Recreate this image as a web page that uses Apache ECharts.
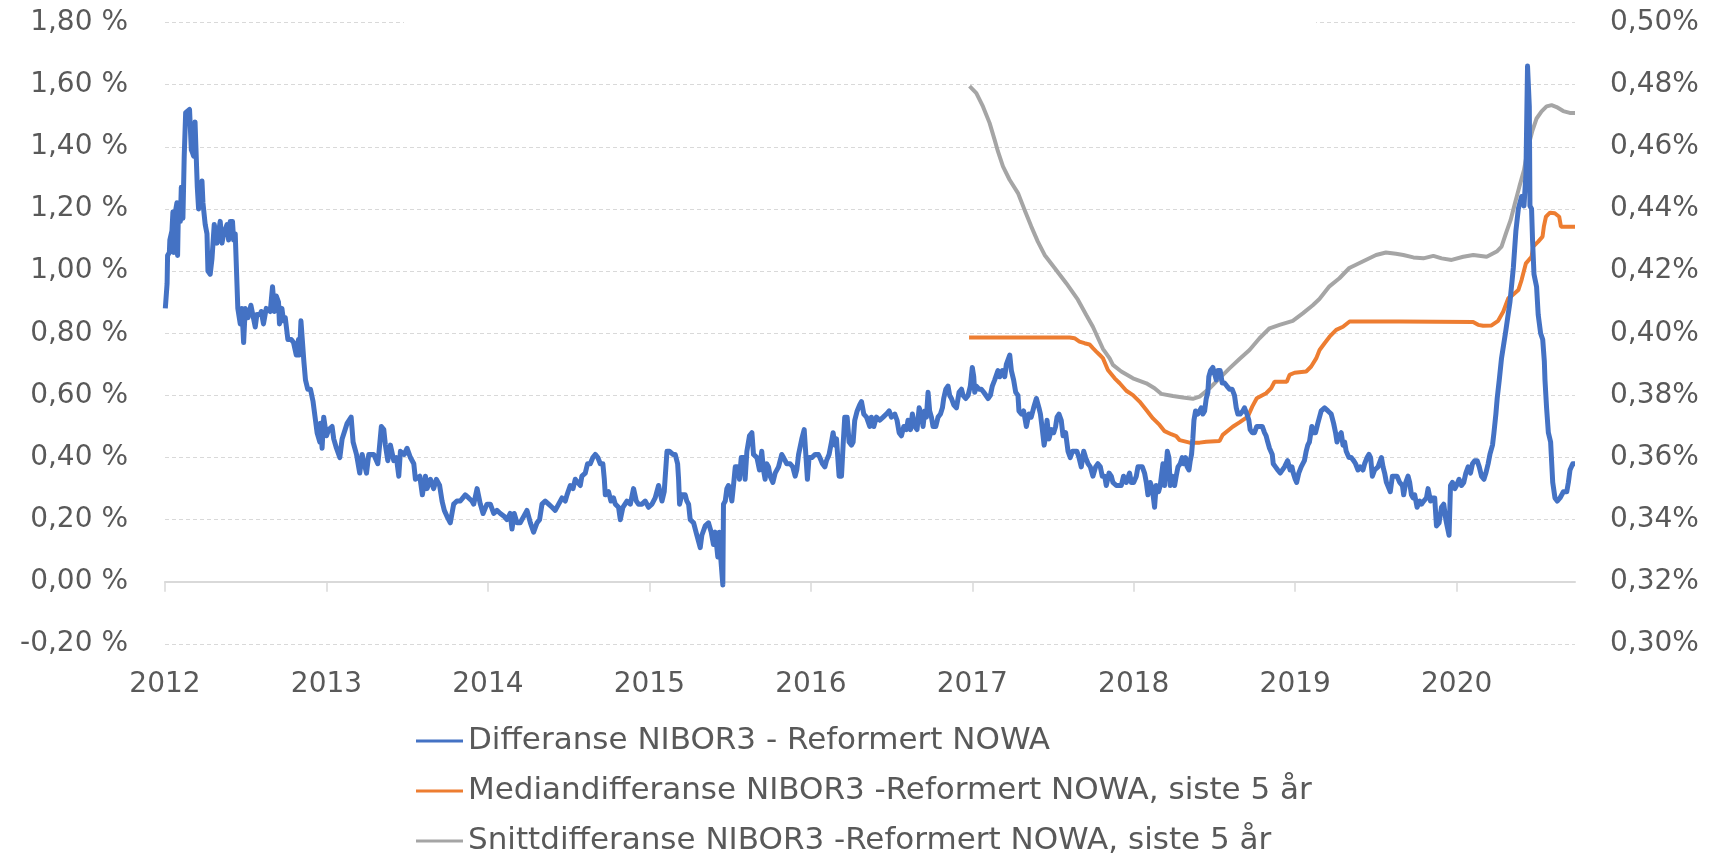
<!DOCTYPE html>
<html>
<head>
<meta charset="utf-8">
<script src="https://cdn.jsdelivr.net/npm/echarts@6/dist/echarts.min.js"></script>
<style>
  html, body { margin: 0; padding: 0; background: #fff; }
  #chart { width: 1711px; height: 853px; }
</style>
</head>
<body>
<div id="chart"></div>
<script>
// år på x-aksen (desimalår), verdier i prosent
var yearTicks = [2012, 2013, 2014, 2015, 2016, 2017, 2018, 2019, 2020];
var seriesNames = [
  'Differanse NIBOR3 - Reformert NOWA',
  'Mediandifferanse NIBOR3 -Reformert NOWA, siste 5 år',
  'Snittdifferanse NIBOR3 -Reformert NOWA, siste 5 år'
];

// venstre akse
var differanse = [
  [2012.002,0.88],[2012.013,0.96],[2012.016,1.05],[2012.027,1.06],[2012.030,1.10],[2012.043,1.13],[2012.049,1.19],[2012.053,1.06],
  [2012.064,1.19],[2012.074,1.22],[2012.078,1.05],[2012.084,1.22],[2012.095,1.16],[2012.101,1.27],[2012.111,1.17],[2012.119,1.37],
  [2012.128,1.51],[2012.140,1.51],[2012.152,1.52],[2012.160,1.52],[2012.163,1.39],[2012.171,1.38],[2012.177,1.37],[2012.186,1.48],
  [2012.196,1.48],[2012.200,1.27],[2012.208,1.20],[2012.218,1.26],[2012.229,1.29],[2012.235,1.22],[2012.242,1.22],[2012.249,1.15],
  [2012.260,1.12],[2012.266,1.00],[2012.280,0.99],[2012.291,1.04],[2012.305,1.15],[2012.322,1.09],[2012.342,1.16],[2012.353,1.09],
  [2012.363,1.12],[2012.384,1.15],[2012.394,1.10],[2012.404,1.16],[2012.418,1.16],[2012.425,1.10],[2012.435,1.12],[2012.447,1.12],
  [2012.451,0.88],[2012.466,0.83],[2012.476,0.88],[2012.487,0.77],[2012.497,0.88],[2012.514,0.85],[2012.532,0.89],[2012.559,0.82],
  [2012.569,0.86],[2012.590,0.86],[2012.596,0.87],[2012.610,0.83],[2012.627,0.88],[2012.652,0.87],[2012.666,0.95],[2012.678,0.87],
  [2012.689,0.92],[2012.703,0.90],[2012.709,0.83],[2012.724,0.88],[2012.734,0.84],[2012.745,0.85],[2012.761,0.78],[2012.782,0.78],
  [2012.796,0.77],[2012.813,0.73],[2012.827,0.78],[2012.833,0.73],[2012.842,0.84],[2012.849,0.84],[2012.860,0.71],[2012.870,0.65],
  [2012.884,0.62],[2012.901,0.62],[2012.917,0.58],[2012.932,0.52],[2012.942,0.48],[2012.959,0.45],[2012.963,0.51],[2012.973,0.43],
  [2012.983,0.53],[2013.000,0.47],[2013.014,0.49],[2013.035,0.50],[2013.045,0.46],[2013.062,0.43],[2013.083,0.40],[2013.097,0.46],
  [2013.128,0.51],[2013.153,0.53],[2013.165,0.45],[2013.186,0.41],[2013.206,0.35],[2013.221,0.41],[2013.248,0.35],[2013.262,0.41],
  [2013.293,0.41],[2013.318,0.38],[2013.324,0.41],[2013.340,0.50],[2013.355,0.49],[2013.365,0.44],[2013.380,0.39],[2013.396,0.44],
  [2013.417,0.39],[2013.433,0.40],[2013.448,0.34],[2013.458,0.42],[2013.482,0.41],[2013.499,0.43],[2013.520,0.40],[2013.541,0.38],
  [2013.551,0.33],[2013.578,0.34],[2013.594,0.28],[2013.613,0.34],[2013.623,0.30],[2013.644,0.33],[2013.664,0.30],[2013.681,0.33],
  [2013.701,0.31],[2013.716,0.26],[2013.730,0.23],[2013.747,0.21],[2013.767,0.19],[2013.788,0.25],[2013.808,0.26],[2013.829,0.26],
  [2013.860,0.28],[2013.881,0.27],[2013.901,0.26],[2013.912,0.25],[2013.933,0.30],[2013.953,0.25],[2013.970,0.22],[2013.994,0.25],
  [2014.015,0.25],[2014.036,0.22],[2014.056,0.23],[2014.077,0.22],[2014.102,0.21],[2014.118,0.20],[2014.138,0.22],[2014.149,0.17],
  [2014.163,0.22],[2014.180,0.19],[2014.200,0.19],[2014.221,0.21],[2014.242,0.23],[2014.263,0.19],[2014.283,0.16],[2014.304,0.19],
  [2014.320,0.20],[2014.335,0.25],[2014.355,0.26],[2014.376,0.25],[2014.397,0.24],[2014.417,0.23],[2014.438,0.25],[2014.459,0.27],
  [2014.479,0.26],[2014.490,0.28],[2014.510,0.31],[2014.527,0.30],[2014.541,0.33],[2014.572,0.31],[2014.582,0.34],[2014.603,0.35],
  [2014.617,0.38],[2014.634,0.38],[2014.650,0.40],[2014.665,0.41],[2014.681,0.40],[2014.696,0.38],[2014.712,0.38],[2014.721,0.33],
  [2014.727,0.28],[2014.747,0.29],[2014.762,0.26],[2014.778,0.27],[2014.789,0.25],[2014.809,0.24],[2014.820,0.20],[2014.836,0.24],
  [2014.861,0.26],[2014.882,0.25],[2014.902,0.30],[2014.919,0.26],[2014.933,0.25],[2014.954,0.25],[2014.974,0.26],[2014.995,0.24],
  [2015.016,0.25],[2015.036,0.27],[2015.057,0.31],[2015.078,0.26],[2015.092,0.29],[2015.109,0.42],[2015.125,0.42],[2015.146,0.41],
  [2015.160,0.41],[2015.175,0.38],[2015.181,0.33],[2015.187,0.25],[2015.201,0.28],[2015.222,0.28],[2015.232,0.26],[2015.243,0.25],
  [2015.253,0.20],[2015.274,0.19],[2015.294,0.15],[2015.315,0.11],[2015.325,0.15],[2015.346,0.18],[2015.366,0.19],[2015.383,0.16],
  [2015.397,0.12],[2015.408,0.16],[2015.418,0.16],[2015.424,0.08],[2015.434,0.16],[2015.443,0.07],[2015.455,-0.01],[2015.459,0.25],
  [2015.470,0.26],[2015.480,0.30],[2015.490,0.31],[2015.500,0.29],[2015.511,0.26],[2015.521,0.31],[2015.532,0.37],[2015.546,0.37],
  [2015.558,0.33],[2015.569,0.40],[2015.583,0.40],[2015.593,0.33],[2015.604,0.42],[2015.620,0.47],[2015.635,0.48],[2015.645,0.41],
  [2015.666,0.40],[2015.682,0.36],[2015.696,0.42],[2015.707,0.36],[2015.717,0.33],[2015.727,0.38],[2015.738,0.37],[2015.748,0.34],
  [2015.765,0.32],[2015.779,0.35],[2015.800,0.37],[2015.820,0.41],[2015.831,0.40],[2015.851,0.38],[2015.872,0.38],[2015.888,0.37],
  [2015.903,0.34],[2015.913,0.36],[2015.924,0.41],[2015.944,0.46],[2015.959,0.49],[2015.971,0.49],[2015.979,0.33],[2015.989,0.40],
  [2016.006,0.40],[2016.027,0.41],[2016.047,0.41],[2016.056,0.40],[2016.072,0.38],[2016.087,0.37],[2016.097,0.39],[2016.113,0.41],
  [2016.128,0.45],[2016.138,0.48],[2016.149,0.44],[2016.159,0.46],[2016.175,0.34],[2016.190,0.34],[2016.200,0.44],[2016.210,0.53],
  [2016.225,0.53],[2016.237,0.45],[2016.252,0.44],[2016.262,0.45],[2016.272,0.52],[2016.287,0.55],[2016.303,0.57],[2016.314,0.58],
  [2016.328,0.54],[2016.345,0.53],[2016.365,0.50],[2016.375,0.53],[2016.390,0.50],[2016.406,0.53],[2016.427,0.52],[2016.448,0.53],
  [2016.468,0.54],[2016.485,0.55],[2016.499,0.53],[2016.520,0.54],[2016.534,0.52],[2016.547,0.48],[2016.561,0.47],[2016.576,0.50],
  [2016.592,0.49],[2016.602,0.52],[2016.617,0.49],[2016.629,0.54],[2016.644,0.50],[2016.658,0.49],[2016.671,0.56],[2016.685,0.54],
  [2016.695,0.50],[2016.706,0.55],[2016.716,0.53],[2016.726,0.61],[2016.736,0.55],[2016.747,0.53],[2016.757,0.50],[2016.774,0.50],
  [2016.788,0.53],[2016.803,0.54],[2016.815,0.56],[2016.823,0.59],[2016.836,0.62],[2016.850,0.63],[2016.860,0.60],[2016.871,0.59],
  [2016.885,0.57],[2016.902,0.56],[2016.918,0.61],[2016.933,0.62],[2016.943,0.60],[2016.959,0.59],[2016.974,0.60],[2016.988,0.63],
  [2017.000,0.69],[2017.009,0.66],[2017.015,0.61],[2017.025,0.63],[2017.042,0.62],[2017.056,0.62],[2017.071,0.61],[2017.083,0.61],
  [2017.098,0.59],[2017.112,0.60],[2017.124,0.63],[2017.139,0.65],[2017.159,0.68],[2017.170,0.66],[2017.186,0.68],[2017.201,0.66],
  [2017.211,0.70],[2017.232,0.73],[2017.242,0.68],[2017.256,0.65],[2017.269,0.61],[2017.283,0.60],[2017.289,0.55],[2017.304,0.54],
  [2017.318,0.55],[2017.335,0.50],[2017.351,0.54],[2017.365,0.53],[2017.380,0.56],[2017.397,0.59],[2017.413,0.56],[2017.422,0.54],
  [2017.434,0.49],[2017.445,0.44],[2017.455,0.47],[2017.463,0.52],[2017.475,0.46],[2017.490,0.49],[2017.504,0.48],[2017.516,0.50],
  [2017.525,0.53],[2017.537,0.54],[2017.551,0.52],[2017.562,0.47],[2017.578,0.48],[2017.593,0.42],[2017.607,0.40],[2017.620,0.42],
  [2017.634,0.42],[2017.648,0.42],[2017.661,0.40],[2017.675,0.37],[2017.690,0.42],[2017.702,0.40],[2017.717,0.38],[2017.731,0.37],
  [2017.747,0.34],[2017.764,0.37],[2017.778,0.38],[2017.793,0.37],[2017.805,0.34],[2017.820,0.34],[2017.830,0.31],[2017.847,0.35],
  [2017.861,0.34],[2017.871,0.32],[2017.892,0.31],[2017.908,0.31],[2017.923,0.31],[2017.937,0.34],[2017.954,0.32],[2017.974,0.35],
  [2017.985,0.32],[2018.000,0.32],[2018.016,0.34],[2018.026,0.37],[2018.040,0.37],[2018.053,0.37],[2018.067,0.35],[2018.078,0.32],
  [2018.088,0.28],[2018.102,0.32],[2018.115,0.30],[2018.129,0.24],[2018.139,0.31],[2018.154,0.29],[2018.164,0.31],[2018.181,0.38],
  [2018.191,0.31],[2018.201,0.31],[2018.208,0.42],[2018.218,0.40],[2018.226,0.31],[2018.238,0.34],[2018.253,0.31],[2018.263,0.34],
  [2018.274,0.37],[2018.288,0.38],[2018.300,0.40],[2018.311,0.38],[2018.321,0.40],[2018.331,0.37],[2018.342,0.36],[2018.350,0.39],
  [2018.358,0.41],[2018.366,0.46],[2018.373,0.52],[2018.383,0.55],[2018.397,0.54],[2018.408,0.55],[2018.418,0.56],[2018.428,0.54],
  [2018.439,0.55],[2018.449,0.59],[2018.459,0.61],[2018.465,0.66],[2018.476,0.68],[2018.490,0.69],[2018.501,0.69],[2018.511,0.65],
  [2018.521,0.68],[2018.535,0.68],[2018.548,0.64],[2018.562,0.64],[2018.577,0.63],[2018.593,0.62],[2018.609,0.62],[2018.624,0.60],
  [2018.635,0.56],[2018.645,0.54],[2018.659,0.54],[2018.676,0.55],[2018.686,0.56],[2018.701,0.54],[2018.713,0.52],[2018.721,0.49],
  [2018.734,0.48],[2018.748,0.48],[2018.762,0.50],[2018.779,0.50],[2018.796,0.50],[2018.810,0.48],[2018.820,0.47],[2018.830,0.45],
  [2018.841,0.43],[2018.858,0.41],[2018.864,0.38],[2018.878,0.37],[2018.892,0.36],[2018.907,0.35],[2018.919,0.35],[2018.934,0.37],
  [2018.944,0.37],[2018.953,0.39],[2018.968,0.36],[2018.980,0.37],[2018.988,0.35],[2019.000,0.33],[2019.009,0.32],[2019.022,0.35],
  [2019.037,0.37],[2019.057,0.39],[2019.068,0.42],[2019.078,0.44],[2019.088,0.45],[2019.103,0.50],[2019.113,0.48],[2019.126,0.48],
  [2019.140,0.51],[2019.161,0.55],[2019.182,0.56],[2019.203,0.55],[2019.223,0.54],[2019.238,0.51],[2019.250,0.48],[2019.259,0.45],
  [2019.271,0.47],[2019.285,0.48],[2019.296,0.44],[2019.306,0.45],[2019.316,0.42],[2019.333,0.40],[2019.347,0.40],[2019.362,0.39],
  [2019.374,0.38],[2019.389,0.36],[2019.403,0.37],[2019.420,0.36],[2019.430,0.38],[2019.445,0.40],[2019.457,0.41],[2019.467,0.40],
  [2019.478,0.34],[2019.492,0.36],[2019.513,0.37],[2019.523,0.37],[2019.534,0.40],[2019.544,0.37],[2019.554,0.35],[2019.565,0.32],
  [2019.575,0.32],[2019.589,0.29],[2019.602,0.34],[2019.616,0.34],[2019.631,0.34],[2019.647,0.32],[2019.664,0.31],[2019.672,0.28],
  [2019.685,0.32],[2019.699,0.34],[2019.709,0.32],[2019.720,0.28],[2019.730,0.27],[2019.740,0.28],[2019.755,0.24],[2019.771,0.26],
  [2019.782,0.25],[2019.796,0.26],[2019.813,0.27],[2019.823,0.30],[2019.838,0.26],[2019.850,0.27],[2019.864,0.27],[2019.875,0.18],
  [2019.891,0.19],[2019.906,0.24],[2019.920,0.25],[2019.933,0.20],[2019.941,0.18],[2019.953,0.15],[2019.962,0.31],[2019.974,0.32],
  [2019.989,0.30],[2019.999,0.31],[2020.015,0.33],[2020.030,0.31],[2020.044,0.32],[2020.057,0.35],[2020.071,0.37],[2020.086,0.35],
  [2020.098,0.38],[2020.112,0.39],[2020.127,0.39],[2020.140,0.37],[2020.154,0.34],[2020.169,0.33],[2020.181,0.35],[2020.195,0.38],
  [2020.206,0.41],[2020.222,0.44],[2020.231,0.48],[2020.243,0.54],[2020.251,0.59],[2020.264,0.65],[2020.278,0.72],[2020.293,0.77],
  [2020.305,0.81],[2020.330,0.90],[2020.351,1.01],[2020.367,1.13],[2020.382,1.20],[2020.402,1.24],[2020.417,1.21],[2020.429,1.31],
  [2020.439,1.66],[2020.450,1.53],[2020.454,1.21],[2020.464,1.20],[2020.470,1.10],[2020.479,0.99],[2020.495,0.95],[2020.505,0.86],
  [2020.520,0.80],[2020.533,0.78],[2020.543,0.71],[2020.547,0.65],[2020.557,0.56],[2020.568,0.48],[2020.582,0.45],[2020.588,0.39],
  [2020.595,0.32],[2020.609,0.27],[2020.623,0.26],[2020.640,0.27],[2020.661,0.29],[2020.682,0.29],[2020.692,0.32],[2020.702,0.36],
  [2020.719,0.38],[2020.733,0.38]
];

// høyre akse
var median5 = [
  [2016.980,0.3986],[2017.603,0.3986],[2017.633,0.3984],[2017.664,0.3973],[2017.695,0.3968],[2017.726,0.3964],[2017.747,0.3952],
  [2017.768,0.3941],[2017.790,0.3930],[2017.809,0.3920],[2017.840,0.3882],[2017.882,0.3855],[2017.913,0.3839],[2017.954,0.3815],
  [2017.995,0.3801],[2018.036,0.3780],[2018.078,0.3753],[2018.119,0.3726],[2018.160,0.3705],[2018.191,0.3685],[2018.232,0.3675],
  [2018.263,0.3669],[2018.284,0.3656],[2018.346,0.3648],[2018.408,0.3648],[2018.449,0.3651],[2018.531,0.3653],[2018.551,0.3673],
  [2018.613,0.3699],[2018.655,0.3713],[2018.707,0.3732],[2018.734,0.3764],[2018.762,0.3791],[2018.820,0.3807],[2018.851,0.3823],
  [2018.872,0.3844],[2018.948,0.3844],[2018.965,0.3866],[2018.996,0.3873],[2019.068,0.3877],[2019.099,0.3893],[2019.130,0.3919],
  [2019.151,0.3946],[2019.182,0.3968],[2019.213,0.3989],[2019.254,0.4011],[2019.296,0.4021],[2019.337,0.4038],[2019.647,0.4038],
  [2020.102,0.4036],[2020.133,0.4027],[2020.164,0.4024],[2020.216,0.4025],[2020.257,0.4040],[2020.289,0.4070],[2020.320,0.4113],
  [2020.347,0.4123],[2020.382,0.4139],[2020.402,0.4171],[2020.429,0.4225],[2020.464,0.4246],[2020.474,0.4279],[2020.505,0.4295],
  [2020.532,0.4311],[2020.540,0.4343],[2020.553,0.4375],[2020.578,0.4388],[2020.608,0.4386],[2020.635,0.4375],[2020.646,0.4343],
  [2020.733,0.4343]
];

var snitt5 = [
  [2016.983,0.4795],[2017.025,0.4773],[2017.066,0.4730],[2017.107,0.4677],[2017.138,0.4623],[2017.159,0.4585],[2017.190,0.4537],
  [2017.231,0.4494],[2017.283,0.4451],[2017.324,0.4397],[2017.365,0.4344],[2017.406,0.4295],[2017.448,0.4252],[2017.510,0.4210],
  [2017.582,0.4161],[2017.654,0.4108],[2017.706,0.4059],[2017.747,0.4021],[2017.809,0.3950],[2017.850,0.3920],[2017.871,0.3898],
  [2017.923,0.3877],[2017.995,0.3855],[2018.078,0.3839],[2018.129,0.3823],[2018.170,0.3805],[2018.243,0.3798],[2018.304,0.3793],
  [2018.366,0.3789],[2018.408,0.3796],[2018.470,0.3823],[2018.531,0.3855],[2018.593,0.3887],[2018.655,0.3917],[2018.717,0.3946],
  [2018.779,0.3984],[2018.841,0.4016],[2018.903,0.4027],[2018.985,0.4040],[2019.047,0.4064],[2019.109,0.4090],[2019.150,0.4110],
  [2019.212,0.4151],[2019.274,0.4177],[2019.335,0.4210],[2019.418,0.4231],[2019.501,0.4252],[2019.562,0.4260],[2019.624,0.4256],
  [2019.670,0.4252],[2019.732,0.4244],[2019.794,0.4241],[2019.856,0.4249],[2019.907,0.4241],[2019.969,0.4236],[2020.041,0.4246],
  [2020.103,0.4252],[2020.186,0.4246],[2020.248,0.4263],[2020.278,0.4279],[2020.305,0.4321],[2020.334,0.4364],[2020.361,0.4418],
  [2020.388,0.4471],[2020.417,0.4525],[2020.443,0.4600],[2020.470,0.4653],[2020.495,0.4691],[2020.526,0.4714],[2020.557,0.4730],
  [2020.588,0.4734],[2020.619,0.4728],[2020.660,0.4715],[2020.701,0.4709],[2020.733,0.4709]
];

var xMax = differanse[differanse.length - 1][0];
var font = 'DejaVu Sans';
var textColor = '#595959';
var gridColor = '#d9d9d9';

var chart = echarts.init(document.getElementById('chart'));
var option = {
  animation: false,
  backgroundColor: '#fff',
  grid: { left: 165, right: 136, top: 22.5, bottom: 209, containLabel: false },
  legend: {
    orient: 'vertical',
    left: 416,
    top: 724,
    height: 200,
    padding: 0,
    itemGap: 16,
    itemWidth: 47,
    itemHeight: 3,
    icon: 'rect',
    data: seriesNames,
    textStyle: { fontFamily: font, fontSize: 31, color: textColor, lineHeight: 34 }
  },
  xAxis: [{
    type: 'value',
    min: 2012,
    max: xMax,
    interval: 1,
    position: 'bottom',
    axisLine: { show: false, onZero: false },
    axisTick: { show: false },
    splitLine: { show: false },
    axisLabel: {
      customValues: yearTicks,
      margin: 27,
      fontFamily: font, fontSize: 28, color: textColor,
      formatter: function (v) { return Math.abs(v - Math.round(v)) < 1e-6 ? String(Math.round(v)) : ''; }
    }
  }, {
    // nullinjen med årsmerker
    type: 'value',
    min: 2012,
    max: xMax,
    interval: 1,
    position: 'bottom',
    axisLine: { show: true, onZero: true, onZeroAxisIndex: 0, lineStyle: { color: gridColor, width: 2 } },
    axisTick: { show: true, customValues: yearTicks, length: 10, lineStyle: { color: gridColor, width: 1.5 } },
    axisLabel: { show: false },
    splitLine: { show: false }
  }],
  yAxis: [{
    type: 'value',
    min: -0.2,
    max: 1.8,
    interval: 0.2,
    axisLine: { show: false },
    axisTick: { show: false },
    splitLine: { show: true, lineStyle: { color: gridColor, type: [4, 3], width: 1 } },
    axisLabel: {
      margin: 37,
      fontFamily: font, fontSize: 28, color: textColor,
      formatter: function (v) { return v.toFixed(2).replace('.', ',') + ' %'; }
    }
  }, {
    type: 'value',
    min: 0.30,
    max: 0.50,
    interval: 0.02,
    position: 'right',
    axisLine: { show: false },
    axisTick: { show: false },
    splitLine: { show: false },
    axisLabel: {
      margin: 35,
      fontFamily: font, fontSize: 28, color: textColor,
      formatter: function (v) { return v.toFixed(2).replace('.', ',') + '%'; }
    }
  }],
  graphic: [{
    // øverste rutenettlinje er delvis skjult i originalen
    type: 'rect',
    shape: { x: 404, y: 17, width: 912, height: 12 },
    style: { fill: '#fff' },
    z: 100
  }],
  series: [{
    name: seriesNames[0],
    type: 'line',
    xAxisIndex: 0,
    yAxisIndex: 0,
    data: differanse,
    showSymbol: false,
    z: 4,
    lineStyle: { color: '#4472C4', width: 5, join: 'round' },
    itemStyle: { color: '#4472C4' }
  }, {
    name: seriesNames[1],
    type: 'line',
    xAxisIndex: 0,
    yAxisIndex: 1,
    data: median5,
    showSymbol: false,
    z: 3,
    lineStyle: { color: '#ED7D31', width: 4 },
    itemStyle: { color: '#ED7D31' }
  }, {
    name: seriesNames[2],
    type: 'line',
    xAxisIndex: 0,
    yAxisIndex: 1,
    data: snitt5,
    showSymbol: false,
    z: 3,
    lineStyle: { color: '#A5A5A5', width: 4 },
    itemStyle: { color: '#A5A5A5' }
  }]
};
chart.setOption(option);
</script>
</body>
</html>
